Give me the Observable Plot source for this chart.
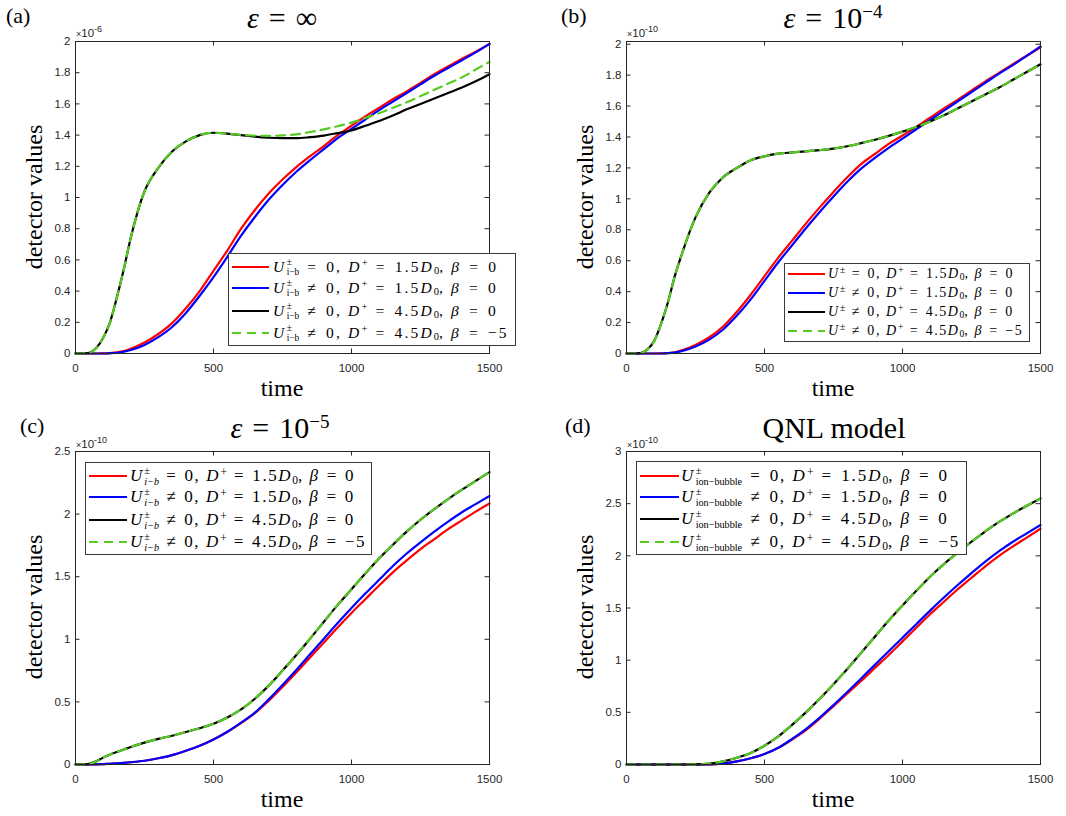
<!DOCTYPE html>
<html><head><meta charset="utf-8">
<script src="https://cdn.jsdelivr.net/npm/d3@7"></script>
<script src="https://cdn.jsdelivr.net/npm/@observablehq/plot@0.6"></script>
<style>
body{margin:0;background:#fff;}
#fig{position:relative;width:1066px;height:816px;background:#fff;overflow:hidden;color:#000;font-family:"Liberation Serif","Times New Roman",serif;}
.lg{position:absolute;border:1px solid #3a3a3a;background:#fff;box-sizing:border-box;}
.row{position:absolute;left:0;display:flex;align-items:center;white-space:nowrap;}
.row svg{flex:none;}
.txt{line-height:1;}
.ss{display:inline-block;vertical-align:-0.36em;font-size:0.6em;line-height:1.08;margin-left:0.04em;letter-spacing:0;}
.ss span{display:block;}
.it{font-style:italic;}
.sp{font-size:0.68em;vertical-align:0.5em;line-height:0;margin-left:0.03em;letter-spacing:0;}
.sb{font-size:0.68em;vertical-align:-0.25em;line-height:0;letter-spacing:0;}
</style></head>
<body><div id="fig"></div>
<script>
// ---------- data (values in units of the axis multiplier) ----------
const time = [0,25,50,75,100,125,150,175,200,250,300,350,400,450,500,550,600,650,700,750,800,850,900,950,1000,1050,1100,1150,1200,1250,1300,1350,1400,1450,1500];
const xTicks = [0,500,1000,1500];

// panel (a) eps = inf, x10^-6
const a_red   = [0,0,0,0,0.001,0.003,0.007,0.015,0.03,0.07,0.125,0.195,0.29,0.40,0.53,0.66,0.80,0.92,1.025,1.115,1.195,1.265,1.33,1.40,1.46,1.52,1.575,1.63,1.68,1.735,1.79,1.84,1.89,1.935,1.985];
const a_blue  = [0,0,0,0,0,0.002,0.005,0.011,0.022,0.055,0.105,0.17,0.26,0.37,0.49,0.62,0.755,0.875,0.985,1.08,1.165,1.24,1.31,1.38,1.44,1.50,1.56,1.615,1.67,1.725,1.78,1.83,1.88,1.93,1.985];
const a_black = [0,0,0.005,0.035,0.10,0.20,0.36,0.54,0.74,1.04,1.19,1.295,1.36,1.40,1.415,1.41,1.40,1.39,1.383,1.38,1.38,1.387,1.397,1.413,1.43,1.46,1.49,1.525,1.565,1.60,1.635,1.67,1.705,1.745,1.79];
const a_green = [0,0,0.005,0.035,0.10,0.20,0.36,0.54,0.74,1.04,1.19,1.295,1.36,1.40,1.415,1.41,1.40,1.397,1.395,1.398,1.405,1.42,1.437,1.457,1.48,1.51,1.54,1.575,1.61,1.65,1.69,1.73,1.77,1.82,1.87];

// panel (b) eps = 1e-4, x10^-10
const b_red   = [0,0,0,0,0,0.001,0.003,0.008,0.02,0.055,0.105,0.175,0.27,0.38,0.50,0.62,0.73,0.84,0.945,1.045,1.14,1.225,1.29,1.355,1.41,1.465,1.525,1.585,1.64,1.70,1.76,1.815,1.87,1.925,1.98];
const b_blue  = [0,0,0,0,0,0,0.002,0.006,0.015,0.045,0.09,0.155,0.245,0.35,0.47,0.59,0.70,0.81,0.915,1.015,1.11,1.195,1.265,1.33,1.39,1.45,1.51,1.57,1.63,1.69,1.75,1.81,1.865,1.925,1.985];
const b_black = [0,0,0.002,0.025,0.08,0.19,0.33,0.50,0.64,0.88,1.04,1.14,1.20,1.25,1.275,1.292,1.30,1.307,1.315,1.325,1.34,1.36,1.382,1.407,1.435,1.465,1.50,1.54,1.585,1.63,1.675,1.72,1.77,1.82,1.87];
const b_green = [0,0,0.002,0.025,0.08,0.19,0.33,0.50,0.64,0.88,1.04,1.14,1.20,1.25,1.275,1.292,1.30,1.307,1.315,1.325,1.34,1.36,1.382,1.407,1.435,1.465,1.50,1.54,1.585,1.63,1.675,1.72,1.77,1.82,1.87];

// panel (c) eps = 1e-5, x10^-10
const c_red   = [0,0,0,0.001,0.003,0.006,0.009,0.013,0.018,0.03,0.05,0.075,0.11,0.15,0.20,0.26,0.33,0.41,0.51,0.62,0.735,0.855,0.975,1.095,1.21,1.32,1.43,1.535,1.63,1.72,1.80,1.88,1.95,2.02,2.085];
const c_blue  = [0,0,0,0.001,0.003,0.006,0.009,0.013,0.018,0.03,0.05,0.075,0.11,0.15,0.20,0.262,0.335,0.415,0.52,0.635,0.755,0.88,1.005,1.13,1.25,1.365,1.475,1.585,1.685,1.775,1.86,1.94,2.015,2.08,2.145];
const c_black = [0,0,0.005,0.025,0.055,0.08,0.10,0.12,0.14,0.175,0.205,0.23,0.26,0.29,0.325,0.375,0.44,0.525,0.63,0.75,0.875,1.005,1.14,1.275,1.40,1.525,1.645,1.755,1.86,1.955,2.04,2.12,2.195,2.265,2.335];
const c_green = [0,0,0.005,0.025,0.055,0.08,0.10,0.12,0.14,0.175,0.205,0.23,0.26,0.29,0.325,0.375,0.44,0.525,0.63,0.75,0.875,1.005,1.14,1.275,1.40,1.525,1.645,1.755,1.86,1.955,2.04,2.12,2.195,2.265,2.335];

// panel (d) QNL model, x10^-10
const d_red   = [0,0,0,0,0,0,0,0,0,0,0.001,0.01,0.03,0.06,0.10,0.16,0.24,0.33,0.44,0.56,0.68,0.80,0.925,1.05,1.18,1.31,1.44,1.56,1.68,1.79,1.90,2.00,2.09,2.175,2.26];
const d_blue  = [0,0,0,0,0,0,0,0,0,0,0.001,0.01,0.03,0.06,0.10,0.16,0.245,0.34,0.45,0.57,0.695,0.825,0.955,1.085,1.215,1.345,1.475,1.60,1.72,1.835,1.945,2.045,2.135,2.215,2.295];
const d_black = [0,0,0,0,0,0,0,0,0,0.001,0.008,0.03,0.065,0.11,0.18,0.27,0.38,0.50,0.63,0.77,0.915,1.07,1.225,1.38,1.525,1.665,1.80,1.92,2.03,2.135,2.235,2.325,2.405,2.48,2.55];
const d_green = [0,0,0,0,0,0,0,0,0,0.001,0.008,0.03,0.065,0.11,0.18,0.27,0.38,0.50,0.63,0.77,0.915,1.07,1.225,1.38,1.525,1.665,1.80,1.92,2.03,2.135,2.235,2.325,2.405,2.48,2.55];

const yTicksA = [0,0.2,0.4,0.6,0.8,1,1.2,1.4,1.6,1.8,2];
const yTicksB = [0,0.2,0.4,0.6,0.8,1,1.2,1.4,1.6,1.8,2];
const yTicksC = [0,0.5,1,1.5,2,2.5];
const yTicksD = [0,0.5,1,1.5,2,2.5,3];
const yTopA = 2, yTopB = 2.0175, yTopC = 2.5, yTopD = 3;

const exponents = ["-6","-10","-10","-10"];
const panelLetters = ["(a)","(b)","(c)","(d)"];
const titleMain = ["\u221E","10","10","QNL model"];
const titleSup = ["","\u22124","\u22125",""];
const xLabel = "time";
const yLabel = "detector values";

const seriesColor = ["#ff0000","#0000ff","#000000","#55cc1f"];
const seriesRel = ["=","\u2260","\u2260","\u2260"];
const seriesD = ["1.5","1.5","4.5","4.5"];
const seriesBeta = ["0","0","0","\u22125"];
const legendSub = ["i\u2212b","","i\u2212b","ion\u2212bubble"];

// ---------- layout ----------
const fig = document.getElementById("fig");
const PW = 533, PH = 408;
const panels = [
  {left:0,   top:0,   mL:75, mR:44, mT:41, mB:55, yTop:yTopA, yTicks:yTicksA, series:[a_red,a_blue,a_black,a_green]},
  {left:533, top:0,   mL:93, mR:26, mT:41, mB:55, yTop:yTopB, yTicks:yTicksB, series:[b_red,b_blue,b_black,b_green]},
  {left:0,   top:408, mL:75, mR:44, mT:43, mB:52, yTop:yTopC, yTicks:yTicksC, series:[c_red,c_blue,c_black,c_green]},
  {left:533, top:408, mL:93, mR:26, mT:43, mB:52, yTop:yTopD, yTicks:yTicksD, series:[d_red,d_blue,d_black,d_green]}
];

panels.forEach((p) => {
  const plotW = PW - p.mL - p.mR, plotH = PH - p.mT - p.mB;
  const lines = p.series.map((vals, k) => Plot.line(time.map((t, i) => ({t, v: vals[i]})), {
    x: "t", y: "v", stroke: seriesColor[k], strokeWidth: 2.2,
    strokeDasharray: k === 3 ? "9,6" : null, curve: "monotone-x"
  }));
  const svg = Plot.plot({
    width: PW, height: PH,
    marginLeft: p.mL, marginRight: p.mR, marginTop: p.mT, marginBottom: p.mB,
    x: {domain: [0, 1500]},
    y: {domain: [0, p.yTop]},
    style: {fontFamily: "'Liberation Sans', Arial, sans-serif", fontSize: "11.5px", background: "transparent", overflow: "visible", color: "#262626"},
    marks: [
      ...lines,
      Plot.tickX(xTicks, {x: d => d, stroke: "#262626", insetTop: plotH - 4.5}),
      Plot.tickX(xTicks, {x: d => d, stroke: "#262626", insetBottom: plotH - 4.5}),
      Plot.tickY(p.yTicks, {y: d => d, stroke: "#262626", insetRight: plotW - 4.5}),
      Plot.tickY(p.yTicks, {y: d => d, stroke: "#262626", insetLeft: plotW - 4.5}),
      Plot.frame({stroke: "#262626", strokeWidth: 1}),
      Plot.axisX({ticks: xTicks, tickSize: 0, tickPadding: 10.5, label: null, color: "#262626", tickFormat: d => String(d)}),
      Plot.axisY({ticks: p.yTicks, tickSize: 0, tickPadding: 5, label: null, color: "#262626", tickFormat: d => String(d)})
    ]
  });
  svg.style.position = "absolute";
  svg.style.left = p.left + "px";
  svg.style.top = p.top + "px";
  fig.appendChild(svg);
});

// ---------- text overlay ----------
const ov = d3.create("svg").attr("width", 1066).attr("height", 816)
  .style("position", "absolute").style("left", "0px").style("top", "0px")
  .style("font-family", "'Liberation Serif','Times New Roman',serif");

const letterPos = [[6,23],[561,23],[20,433],[565,433]];
const titlePos = [[282,28],[833,28],[280,438],[834,438]];
const xLabPos = [[282,396],[833,396],[282,807],[833,807]];
const yLabPos = [[42,197],[593,197],[42,607],[593,607]];
const expPos = [[76,37],[627,37],[76,448],[627,448]];

panels.forEach((p, i) => {
  ov.append("text").attr("x", letterPos[i][0]).attr("y", letterPos[i][1]).attr("font-size", 22).text(panelLetters[i]);
  const t = ov.append("text").attr("x", titlePos[i][0]).attr("y", titlePos[i][1]).attr("font-size", 30).attr("text-anchor", "middle");
  if (i < 3) {
    t.append("tspan").attr("font-style", "italic").text("\u03B5");
    t.append("tspan").text("\u2004=\u2004" + titleMain[i]);
    if (titleSup[i]) t.append("tspan").attr("dy", -10).attr("font-size", 19).text(titleSup[i]);
  } else {
    t.text(titleMain[i]);
  }
  ov.append("text").attr("x", xLabPos[i][0]).attr("y", xLabPos[i][1]).attr("font-size", 24).attr("text-anchor", "middle").text(xLabel);
  ov.append("text").attr("transform", `translate(${yLabPos[i][0]},${yLabPos[i][1]}) rotate(-90)`).attr("font-size", 24).attr("text-anchor", "middle").text(yLabel);
  const e = ov.append("text").attr("x", expPos[i][0]).attr("y", expPos[i][1]).attr("font-size", 11.5)
    .attr("font-family", "'Liberation Sans', Arial, sans-serif").attr("fill", "#262626");
  e.append("tspan").attr("font-size", 9).text("\u00D7");
  e.append("tspan").text("10");
  e.append("tspan").attr("dy", -5).attr("font-size", 9).text(exponents[i]);
});
fig.appendChild(ov.node());

// ---------- legends ----------
const legends = [
  {left:228, top:253, w:288, h:93, rows:[13,34,57,79], font:15.5, lineW:37, gap:4, sub:legendSub[0], subIt:false, target:225},
  {left:784, top:263, w:246, h:79, rows:[10,29,48,67], font:14,   lineW:37, gap:3, sub:null,         subIt:false, target:186},
  {left:85,  top:462, w:287, h:93, rows:[13,34,57,79], font:17,   lineW:38, gap:3, sub:legendSub[2], subIt:true,  target:225},
  {left:636, top:461, w:331, h:94, rows:[14,35,57,80], font:17,   lineW:39, gap:2, sub:legendSub[3], subIt:false, target:268}
];

function labelHTML(L, k) {
  let script;
  if (L.sub === null) script = `<span class="sp">\u00B1</span>`;
  else script = `<span class="ss"><span>\u00B1</span><span class="${L.subIt ? "it" : ""}">${L.sub}</span></span>`;
  const rel = s => `<span class="rel">${s}</span>`;
  return `<i>U</i>${script}${rel(seriesRel[k])}0, <i>D</i><span class="sp">+</span>${rel("=")}${seriesD[k]}<i>D</i><span class="sb">0</span>, <i>\u03B2</i>${rel("=")}${seriesBeta[k]}`;
}

legends.forEach(L => {
  const box = document.createElement("div");
  box.className = "lg";
  Object.assign(box.style, {left: L.left + "px", top: L.top + "px", width: L.w + "px", height: L.h + "px"});
  const spans = [];
  L.rows.forEach((cy, k) => {
    const row = document.createElement("div");
    row.className = "row";
    Object.assign(row.style, {top: (cy - 11) + "px", height: "22px", left: "3px", fontSize: L.font + "px"});
    const sw = d3.create("svg").attr("width", L.lineW).attr("height", 6);
    sw.append("line").attr("x1", 0).attr("x2", L.lineW).attr("y1", 3).attr("y2", 3)
      .attr("stroke", seriesColor[k]).attr("stroke-width", 2.2)
      .attr("stroke-dasharray", k === 3 ? "9,6" : null);
    row.appendChild(sw.node());
    const tx = document.createElement("span");
    tx.className = "txt";
    tx.style.marginLeft = L.gap + "px";
    tx.innerHTML = labelHTML(L, k);
    row.appendChild(tx);
    box.appendChild(row);
    spans.push(tx);
  });
  fig.appendChild(box);
  // widen spacing (wide math operators and gaps, as in the reference typesetting)
  const base = 0.22 * L.font;
  const setRel = pad => spans.forEach(s => s.querySelectorAll(".rel").forEach(r => { r.style.margin = `0 ${pad.toFixed(2)}px`; }));
  setRel(base);
  const w1 = spans[0].getBoundingClientRect().width;
  const extra = Math.max(0, L.target - w1);
  setRel(base + extra * 0.45 / 6);
  const w2 = spans[0].getBoundingClientRect().width;
  let nMain = spans[0].textContent.length;
  spans[0].querySelectorAll(".ss, .sp, .sb").forEach(el => { nMain -= el.textContent.length; });
  const ls = Math.max(0, (L.target - w2) / Math.max(1, nMain));
  spans.forEach(s => { s.style.letterSpacing = ls.toFixed(2) + "px"; });
});
</script>
</body></html>
